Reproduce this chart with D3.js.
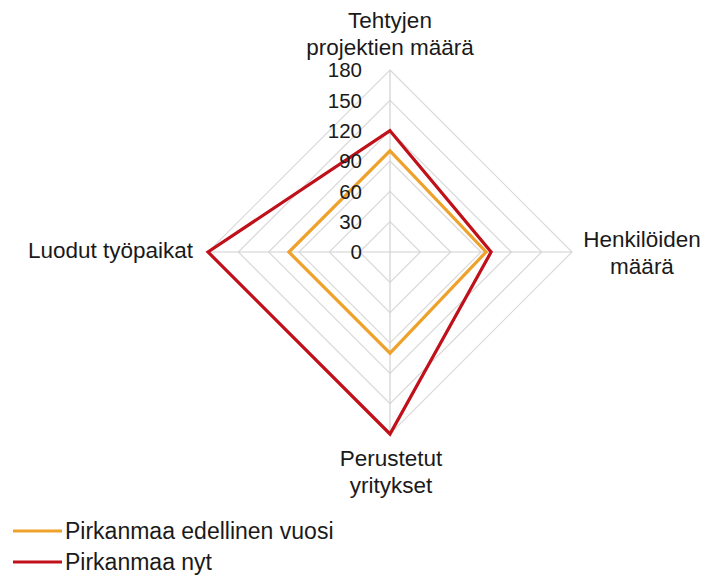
<!DOCTYPE html>
<html><head><meta charset="utf-8">
<script src="https://cdn.jsdelivr.net/npm/d3@7"></script>
<style>body{margin:0;background:#fff}svg{display:block}text{font-family:"Liberation Sans",Arial,sans-serif;fill:#1a1a1a}</style>
</head><body><svg id="c" width="705" height="583"></svg>
<script>
const axes = [["Tehtyjen","projektien määrä"],["Henkilöiden","määrä"],["Perustetut","yritykset"],["Luodut työpaikat"]];
const seriesNames = ["Pirkanmaa edellinen vuosi","Pirkanmaa nyt"];
const prevYear = [100, 95, 100, 100];
const nowYear = [120, 100, 180, 180];
const ticks = [0,30,60,90,120,150,180];
const colors = ["#EEA22C","#C0101A"];

const svg = d3.select("#c");
const cx = 390, cy = 252;
const r = d3.scaleLinear().domain([0,180]).range([0,182]);
const ang = i => -Math.PI/2 + i*2*Math.PI/axes.length;
const pt = (v,i) => [cx + r(v)*Math.cos(ang(i)), cy + r(v)*Math.sin(ang(i))];
const line = d3.line();

const g = svg.append("g");
ticks.slice(1).forEach(t=>{
  g.append("path").attr("d", line(axes.map((a,i)=>pt(t,i)))+"Z")
   .attr("fill","none").attr("stroke","#d9d9d9").attr("stroke-width",1.2);
});
axes.forEach((a,i)=>{
  const p = pt(180,i);
  g.append("line").attr("x1",cx).attr("y1",cy).attr("x2",p[0]).attr("y2",p[1])
   .attr("stroke","#d0d0d0").attr("stroke-width",1.2);
});

[prevYear, nowYear].forEach((s,k)=>{
  svg.append("path").attr("d", line(s.map((v,i)=>pt(v,i)))+"Z")
    .attr("fill","none").attr("stroke",colors[k]).attr("stroke-width",3.2).attr("stroke-linejoin","miter");
});

ticks.forEach(t=>{
  svg.append("text").attr("x",362).attr("y",cy - r(t)).attr("dy","0.36em")
    .attr("text-anchor","end").attr("font-size",20.5).text(t);
});

// axis labels
const lab = [
  {x:390, y:28, anchor:"middle"},
  {x:642, y:247, anchor:"middle"},
  {x:391, y:466, anchor:"middle"},
  {x:193, y:258, anchor:"end"}
];
axes.forEach((a,i)=>{
  const t = svg.append("text").attr("x",lab[i].x).attr("y",lab[i].y)
    .attr("text-anchor",lab[i].anchor).attr("font-size",22.5);
  a.forEach((ln,j)=>t.append("tspan").attr("x",lab[i].x).attr("dy", j? 27:0).text(ln));
});

// legend
seriesNames.forEach((n,k)=>{
  const y = 531 + k*31;
  svg.append("line").attr("x1",13).attr("x2",62).attr("y1",y).attr("y2",y)
    .attr("stroke",colors[k]).attr("stroke-width",3.2);
  svg.append("text").attr("x",65).attr("y",y).attr("dy","0.36em").attr("font-size",23).text(n);
});
</script></body></html>
